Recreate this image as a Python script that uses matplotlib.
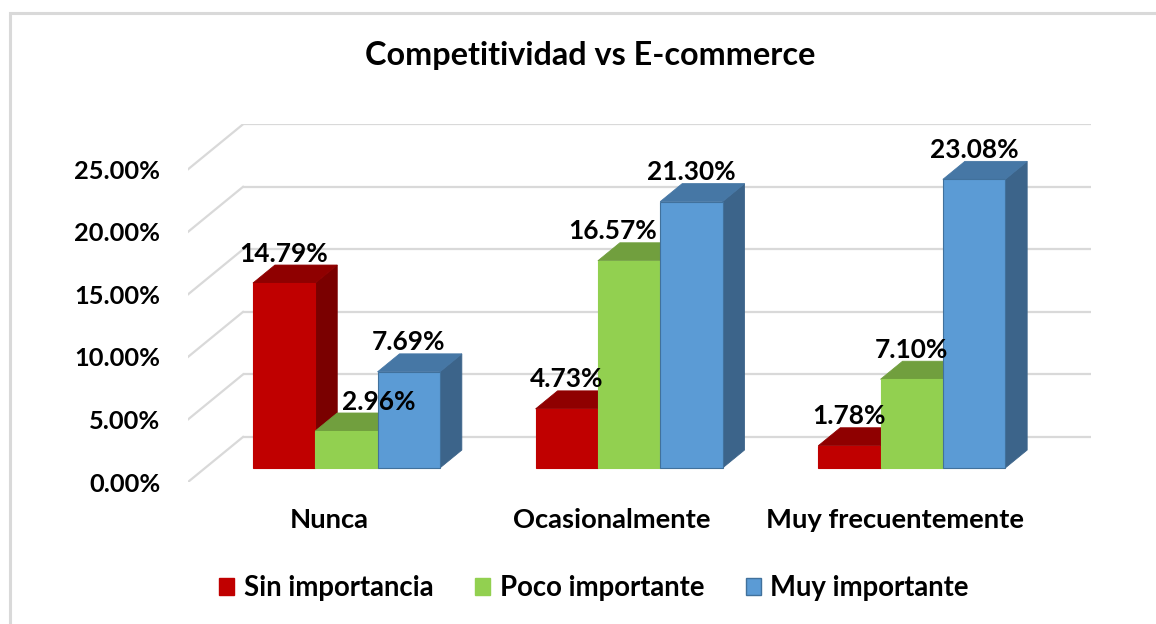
import matplotlib
matplotlib.use("Agg")
import matplotlib.pyplot as plt
from matplotlib.patches import Polygon, Rectangle, Patch
import numpy as np

# ---------------- data ----------------
categories = ["Nunca", "Ocasionalmente", "Muy frecuentemente"]
series_names = ["Sin importancia", "Poco importante", "Muy importante"]
sin_importancia = [14.79, 4.73, 1.78]
poco_importante = [2.96, 16.57, 7.10]
muy_importante = [7.69, 21.30, 23.08]
series_values = [sin_importancia, poco_importante, muy_importante]
y_ticks = [0, 5, 10, 15, 20, 25]
title = "Competitividad vs E-commerce"

# ---------------- style ----------------
front_cols = ["#C00000", "#92D050", "#5B9BD5"]
top_cols = ["#8F0000", "#719F3E", "#4677A5"]
side_cols = ["#7A0000", "#5E8A30", "#3C648A"]
edge_cols = ["#C00000", "#92D050", "#41719C"]
grid_col = "#D9D9D9"
FAMILY = ["Lato", "DejaVu Sans"]

W, H = 1156, 624
fig = plt.figure(figsize=(W / 100, H / 100), dpi=100)
renderer = fig.canvas.get_renderer()

# 3D oblique geometry (in data units)
DX = 55 / 282.7          # depth offset of the whole floor in x (category units)
DY = 3.6                 # depth offset in y (percent units)
f0, bd = 0.31, 0.40      # bar front depth fraction and bar depth fraction
bw = 0.2204              # bar width
ymax = y_ticks[-1]

left_px, right_px, bot_px, top_px = 188, 1091, 482, 124.3
ax = fig.add_axes([left_px / W, 1 - bot_px / H, (right_px - left_px) / W, (bot_px - top_px) / H])
ax.set_xlim(0, len(categories) + DX)
ax.set_ylim(0, ymax + DY)
for s in ax.spines.values():
    s.set_visible(False)
ax.patch.set_visible(False)


def fit_size(text, target_px, base=20, weight="bold"):
    t = fig.text(0, 0, text, fontsize=base, family=FAMILY, weight=weight)
    w = t.get_window_extent(renderer).width
    t.remove()
    return base * target_px / w


fs_tick = fit_size("25.00%", 86)
fs_lab = fit_size("14.79%", 89)
fs_cat = fit_size("Ocasionalmente", 198)
fs_leg = fit_size("Sin importancia", 190)
fs_title = fit_size(title, 450)

# gridlines: back wall + left side wall
for v in y_ticks:
    ax.plot([DX, len(categories) + DX], [v + DY, v + DY], color=grid_col, lw=1.6, zorder=1,
            solid_capstyle="butt")
    ax.plot([0, DX], [v, v + DY], color=grid_col, lw=1.6, zorder=1)

# bars
base = f0 * DY
ddx, ddy = bd * DX, bd * DY
label_dx_px = [[0, 32, 0], [0, -16, 0], [0, 0, 0]]
n = len(series_values)
for ci in range(len(categories)):
    gc = ci + 0.5 + f0 * DX
    for si in range(n):
        v = series_values[si][ci]
        xc = gc + (si - (n - 1) / 2) * bw
        xl, xr = xc - bw / 2, xc + bw / 2
        z = 3 + si * 3 + ci * 10
        side = Polygon([(xr, base), (xr, base + v), (xr + ddx, base + v + ddy), (xr + ddx, base + ddy)],
                       closed=True, fc=side_cols[si], ec=side_cols[si], lw=0.6, zorder=z)
        top = Polygon([(xl, base + v), (xr, base + v), (xr + ddx, base + v + ddy), (xl + ddx, base + v + ddy)],
                      closed=True, fc=top_cols[si], ec=top_cols[si], lw=0.6, zorder=z + 1)
        ax.add_patch(side)
        ax.add_patch(top)
        ax.bar([xc], [v], width=bw, bottom=base, color=front_cols[si], edgecolor=edge_cols[si],
               linewidth=0.8, zorder=z + 2)
        ax.annotate(f"{v:.2f}%", xy=(xc, base + v + ddy), xytext=(label_dx_px[ci][si] * 0.72, 2.5),
                    textcoords="offset points", ha="center", va="baseline",
                    fontsize=fs_lab, family=FAMILY, weight="bold", color="black", zorder=100)

# y tick labels
ax.set_yticks(y_ticks, labels=[f"{v:.2f}%" for v in y_ticks])
ax.tick_params(axis="y", length=0, pad=20, labelsize=fs_tick)
for lab in ax.get_yticklabels():
    lab.set_family(FAMILY)
    lab.set_weight("bold")

# category labels
ax.set_xticks([i + 0.5 for i in range(len(categories))], labels=categories)
ax.tick_params(axis="x", length=0, pad=19, labelsize=fs_cat)
for lab in ax.get_xticklabels():
    lab.set_family(FAMILY)
    lab.set_weight("bold")

# title
fig.text(590 / W, 1 - 65 / H, title, ha="center", va="baseline", fontsize=fs_title,
         family=FAMILY, weight="bold")

# legend
handles = [Patch(facecolor=front_cols[i], edgecolor=edge_cols[i], lw=1.0) for i in range(n)]
leg = fig.legend(handles, series_names, loc="center", bbox_to_anchor=(594 / W, 1 - 588 / H),
                 ncol=3, frameon=False, handlelength=0.55, handleheight=0.55,
                 handletextpad=0.35, columnspacing=1.5,
                 prop={"family": FAMILY, "weight": "bold", "size": fs_leg})

# outer chart border
fig.add_artist(Rectangle((10 / W, -0.1), 1.2, 1.1 - 13 / H, transform=fig.transFigure,
                         fill=False, ec="#D9D9D9", lw=2.2))

fig.savefig("out.png", dpi=100)
